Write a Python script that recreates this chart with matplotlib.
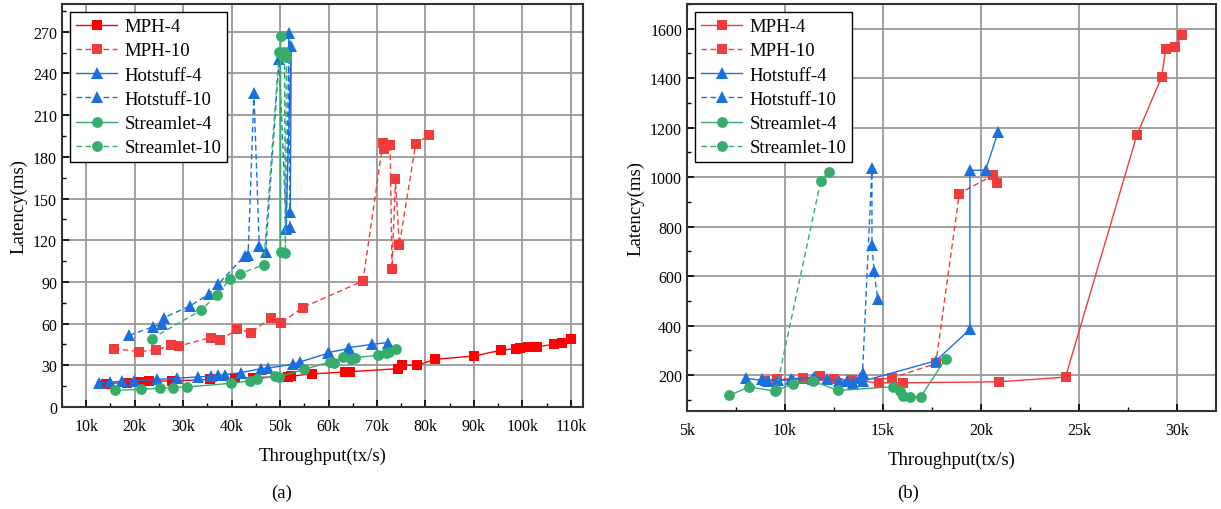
import numpy as np
import matplotlib
matplotlib.use("Agg")
import matplotlib.pyplot as plt
from matplotlib.ticker import MultipleLocator

nan = np.nan

# ---------------- (a) data: throughput in k tx/s, latency in ms ----------------
a_mph4_x = [14.0, 18.4, 21.0, 23.0, 27.7, 35.6, 40.7, 44.5, 51.7, 52.2, 56.6, 63.3, 64.5,
            74.3, 75.1, 78.2, 82.0, 90.0, 95.5, 98.6, 99.6, 101.2, 103.1, 106.5, 108.2, 110.1]
a_mph4_y = [16.8, 17.6, 18.0, 18.7, 18.7, 19.9, 20.7, 21.2, 21.9, 22.2, 23.8, 25.2, 25.4,
            27.6, 30.0, 30.0, 34.3, 36.7, 40.8, 42.0, 42.3, 43.2, 43.4, 45.1, 46.3, 49.2]

a_mph10_x = [15.7, 20.8, 24.4, 27.5, 29.2, 35.7, 37.6, 41.2, 44.0, 48.2, 50.1, 54.7, 67.1,
             71.2, 71.5, 72.7, 73.1, 73.8, 74.6, 78.0, 80.8]
a_mph10_y = [42.0, 39.9, 41.0, 44.4, 43.9, 50.0, 48.2, 55.9, 53.6, 64.4, 60.3, 71.6, 90.7,
             189.9, 186.0, 188.6, 99.6, 163.9, 116.6, 189.6, 195.6]

a_hs4_x = [12.6, 14.9, 17.4, 19.8, 24.6, 28.7, 33.0, 35.8, 37.2, 38.7, 42.0, 46.1, 47.6,
           52.6, 54.1, 59.9, 60.0, 64.0, 64.3, 69.0, 72.3, nan, 51.2, 52.3, 52.1]
a_hs4_y = [17.6, 18.0, 18.5, 18.7, 19.9, 20.7, 21.6, 22.3, 23.0, 23.3, 24.8, 27.6, 28.1,
           30.7, 32.4, 38.7, 39.2, 42.0, 42.8, 45.1, 46.4, nan, 128.4, 259.9, 140.4]

a_hs10_x = [18.9, 23.7, 25.6, 26.1, 31.4, 35.3, 37.2, 42.7, 43.4, 44.6, 45.7, 47.0, 49.8,
            51.3, 51.8, 52.0]
a_hs10_y = [51.6, 57.6, 59.5, 64.4, 72.7, 81.1, 88.3, 108.7, 109.2, 225.6, 115.9, 111.2, 250.3,
            127.9, 268.8, 129.2]

a_sl4_x = [16.0, 21.2, 25.2, 28.0, 30.8, 39.9, 43.8, 45.2, 49.0, 49.7, 55.0, 60.3, 60.6, 61.2,
           62.9, 64.6, 65.5, 70.1, 71.8, 72.5, 73.9, nan, 50.1, 50.1]
a_sl4_y = [12.0, 12.7, 13.5, 14.0, 14.4, 17.1, 18.7, 19.9, 22.3, 21.6, 27.1, 32.4, 32.4, 32.0,
           36.3, 34.3, 35.6, 37.2, 39.2, 39.6, 41.5, nan, 111.2, 266.7]

a_sl10_x = [23.5, 33.7, 36.9, 39.6, 41.7, 46.6, 49.8, 50.6, 50.9, 51.1, 51.3]
a_sl10_y = [49.2, 69.6, 80.4, 91.9, 96.0, 102.2, 255.2, 252.7, 255.2, 110.7, 251.6]

# ---------------- (b) data ----------------
b_mph4_x = [9.58, 10.93, 12.52, 14.81, 16.0, 20.93, 24.32, 27.97, 29.22, 29.44, 29.9, 30.29]
b_mph4_y = [178, 185, 185, 169, 169, 173, 192, 1172, 1404, 1519, 1527, 1576]

b_mph10_x = [9.0, 9.61, 10.94, 11.79, 13.4, 15.44, 17.7, 18.9, 20.6, 20.8]
b_mph10_y = [176, 183, 188, 196, 180, 187, 247, 934, 1007, 977]

b_hs4_x = [8.0, 9.15, 10.31, 11.48, 12.77, 13.48, 13.99, 17.7, 19.44, 19.44, 20.24, 20.88]
b_hs4_y = [187, 176, 183, 193, 176, 169, 176, 258, 385, 1028, 1028, 1183]

b_hs10_x = [8.81, 9.66, 10.42, 11.44, 12.16, 13.15, 13.83, 13.96, 14.44, 14.44, 14.55, 14.73]
b_hs10_y = [185, 180, 180, 185, 183, 176, 190, 210, 1039, 724, 619, 506]

b_sl4_x = [7.16, 8.18, 9.49, 10.42, 11.41, 12.72, 15.49, 15.87, 16.0, 16.38, 16.92, 18.2]
b_sl4_y = [118, 153, 135, 165, 176, 138, 153, 135, 115, 113, 111, 266]

b_sl10_x = [9.55, 11.82, 12.24]
b_sl10_y = [140, 983, 1022]

names = ["MPH-4", "MPH-10", "Hotstuff-4", "Hotstuff-10", "Streamlet-4", "Streamlet-10"]

a_xticks = [10, 20, 30, 40, 50, 60, 70, 80, 90, 100, 110]
a_xticklabels = ["10k", "20k", "30k", "40k", "50k", "60k", "70k", "80k", "90k", "100k", "110k"]
a_yticks = [0, 30, 60, 90, 120, 150, 180, 210, 240, 270]
b_xticks = [5, 10, 15, 20, 25, 30]
b_xticklabels = ["5k", "10k", "15k", "20k", "25k", "30k"]
b_yticks = [200, 400, 600, 800, 1000, 1200, 1400, 1600]

plt.rcParams['font.family'] = ['Liberation Serif', 'DejaVu Serif']
plt.rcParams['mathtext.fontset'] = 'stix'

fig = plt.figure(figsize=(12.21, 5.10), dpi=100)
axA = fig.add_axes([62/1221, 1-408/510, (583-62)/1221, (408-5)/510])
axB = fig.add_axes([687/1221, 1-412/510, (1216-687)/1221, (412-5)/510])

RED = '#ff0000'
RED2 = '#f03c3c'
BLUE = '#1a6fdf'
GREEN = '#37ad6b'
DASH = (4, 2.5)


def draw(ax, series, red4):
    styles = [
        dict(color=red4, marker='s', ms=6.8, ls='-'),
        dict(color=RED2, marker='s', ms=6.8, ls='--'),
        dict(color=BLUE, marker='^', ms=8.2, ls='-'),
        dict(color=BLUE, marker='^', ms=8.2, ls='--'),
        dict(color=GREEN, marker='o', ms=7.8, ls='-'),
        dict(color=GREEN, marker='o', ms=7.8, ls='--'),
    ]
    for (xs, ys), name, st in zip(series, names, styles):
        kw = dict(color=st['color'], marker=st['marker'], markersize=st['ms'],
                  markeredgewidth=0, linestyle=st['ls'], linewidth=1.0, label=name,
                  zorder=3)
        if st['ls'] == '--':
            kw['dashes'] = DASH
        ax.plot(xs, ys, **kw)


draw(axA, [(a_mph4_x, a_mph4_y), (a_mph10_x, a_mph10_y), (a_hs4_x, a_hs4_y),
           (a_hs10_x, a_hs10_y), (a_sl4_x, a_sl4_y), (a_sl10_x, a_sl10_y)], RED)
draw(axB, [(b_mph4_x, b_mph4_y), (b_mph10_x, b_mph10_y), (b_hs4_x, b_hs4_y),
           (b_hs10_x, b_hs10_y), (b_sl4_x, b_sl4_y), (b_sl10_x, b_sl10_y)], RED2)

axA.set_xlim(5, 112.5)
axA.set_ylim(0, 290)
axA.set_xticks(a_xticks)
axA.set_xticklabels(a_xticklabels)
axA.set_yticks(a_yticks)
axA.xaxis.set_minor_locator(MultipleLocator(5))
axA.yaxis.set_minor_locator(MultipleLocator(15))

axB.set_xlim(5, 32)
axB.set_ylim(55, 1700)
axB.set_xticks(b_xticks)
axB.set_xticklabels(b_xticklabels)
axB.set_yticks(b_yticks)
axB.xaxis.set_minor_locator(MultipleLocator(2.5))
axB.yaxis.set_minor_locator(MultipleLocator(100))

for ax in (axA, axB):
    ax.grid(True, which='major', color='#999999', linewidth=1.3, zorder=0)
    ax.set_axisbelow(True)
    ax.tick_params(which='major', direction='in', length=5, width=1.2, labelsize=11.5,
                   top=False, right=False)
    ax.tick_params(axis='x', which='major', pad=8)
    ax.tick_params(which='minor', direction='in', length=3, width=1.0,
                   top=False, right=False)
    for s in ax.spines.values():
        s.set_linewidth(1.5)
        s.set_color('#333333')
    ax.set_xlabel("Throughput(tx/s)", fontsize=13.5, labelpad=9)
    ax.set_ylabel("Latency(ms)", fontsize=13.5, labelpad=4)
    leg = ax.legend(loc='upper left', fontsize=13.5, frameon=True, fancybox=False,
                    edgecolor='black', framealpha=1, handlelength=2.2,
                    labelspacing=0.38, borderpad=0.3, handletextpad=0.4,
                    borderaxespad=0.45)
    leg.get_frame().set_linewidth(1.0)

fig.text(282/1221, 1-493/510, "(a)", ha='center', va='center', fontsize=13.5)
fig.text(908/1221, 1-493/510, "(b)", ha='center', va='center', fontsize=13.5)

fig.savefig("out.png", dpi=100)
